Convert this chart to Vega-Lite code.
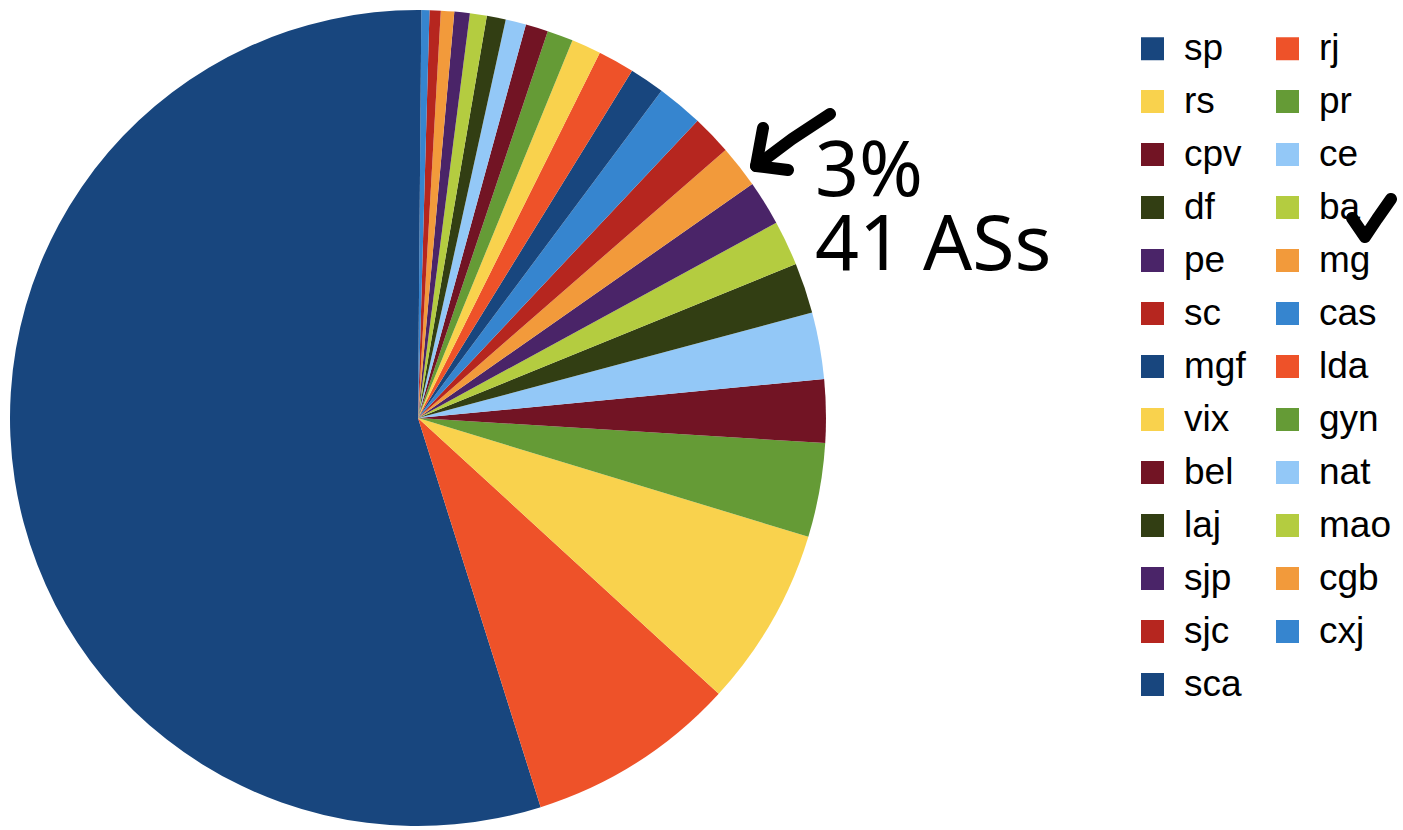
{
  "$schema": "https://vega.github.io/schema/vega-lite/v6.json",
  "width": 836,
  "height": 836,
  "padding": 0,
  "background": "white",
  "config": {"view": {"stroke": null}},
  "datasets": {
    "shares": [
      {"idx": 1, "name": "sp", "share": 54.86},
      {"idx": 2, "name": "rj", "share": 8.33},
      {"idx": 3, "name": "rs", "share": 7.11},
      {"idx": 4, "name": "pr", "share": 3.72},
      {"idx": 5, "name": "cpv", "share": 2.5},
      {"idx": 6, "name": "ce", "share": 2.64},
      {"idx": 7, "name": "df", "share": 2.0},
      {"idx": 8, "name": "ba", "share": 1.78},
      {"idx": 9, "name": "pe", "share": 1.78},
      {"idx": 10, "name": "mg", "share": 1.69},
      {"idx": 11, "name": "sc", "share": 1.58},
      {"idx": 12, "name": "cas", "share": 1.83},
      {"idx": 13, "name": "mgf", "share": 1.39},
      {"idx": 14, "name": "lda", "share": 1.44},
      {"idx": 15, "name": "vix", "share": 1.17},
      {"idx": 16, "name": "gyn", "share": 1.03},
      {"idx": 17, "name": "bel", "share": 0.89},
      {"idx": 18, "name": "nat", "share": 0.81},
      {"idx": 19, "name": "laj", "share": 0.75},
      {"idx": 20, "name": "mao", "share": 0.67},
      {"idx": 21, "name": "sjp", "share": 0.61},
      {"idx": 22, "name": "cgb", "share": 0.53},
      {"idx": 23, "name": "sjc", "share": 0.44},
      {"idx": 24, "name": "cxj", "share": 0.32},
      {"idx": 25, "name": "sca", "share": 0.13}
    ],
    "notes": [
      {"label": "3%", "x": 815, "y": 196},
      {"label": "41 ASs", "x": 815, "y": 270}
    ],
    "arrows": [
      {"part": "a1shaft", "i": 1, "x": 756, "y": 166},
      {"part": "a1shaft", "i": 2, "x": 792, "y": 139},
      {"part": "a1shaft", "i": 3, "x": 830, "y": 114},
      {"part": "a1head", "i": 1, "x": 763, "y": 128},
      {"part": "a1head", "i": 2, "x": 756, "y": 166},
      {"part": "a1head", "i": 3, "x": 788, "y": 170},
      {"part": "a2", "i": 1, "x": 1352, "y": 218},
      {"part": "a2", "i": 2, "x": 1365, "y": 237},
      {"part": "a2", "i": 3, "x": 1377, "y": 219},
      {"part": "a2", "i": 4, "x": 1391, "y": 199}
    ]
  },
  "layer": [
    {
      "data": {"name": "shares"},
      "mark": {"type": "arc", "outerRadius": 408},
      "encoding": {
        "theta": {"field": "share", "type": "quantitative", "stack": true},
        "order": {"field": "idx", "type": "quantitative", "sort": "descending"},
        "color": {
          "field": "name",
          "type": "nominal",
          "scale": {
            "domain": ["sp","rj","rs","pr","cpv","ce","df","ba","pe","mg","sc","cas","mgf","lda","vix","gyn","bel","nat","laj","mao","sjp","cgb","sjc","cxj","sca"],
            "range": ["#18467e","#ee5229","#f9d24d","#659b36","#721424","#93c8f7","#323e13","#b4cc40","#4a2468","#f29a3b","#b6261f","#3685cf","#18467e","#ee5229","#f9d24d","#659b36","#721424","#93c8f7","#323e13","#b4cc40","#4a2468","#f29a3b","#b6261f","#3685cf","#18467e"]
          },
          "legend": {
            "title": null,
            "orient": "none",
            "direction": "horizontal",
            "legendX": 1134,
            "legendY": 30,
            "columns": 2,
            "symbolType": "square",
            "symbolSize": 529,
            "symbolStrokeWidth": 0,
            "symbolOpacity": 1,
            "labelFont": "Liberation Sans",
            "labelFontSize": 37,
            "labelColor": "black",
            "labelOffset": 13,
            "rowPadding": 15,
            "columnPadding": 23,
            "padding": 0,
            "labelLimit": 300
          }
        }
      }
    },
    {
      "data": {"name": "notes"},
      "mark": {"type": "text", "font": "Noto Sans", "fontSize": 77, "fontWeight": 400, "align": "left", "baseline": "alphabetic", "color": "black"},
      "encoding": {
        "x": {"field": "x", "type": "quantitative", "scale": {"domain": [0, 836], "nice": false, "zero": false}, "axis": null},
        "y": {"field": "y", "type": "quantitative", "scale": {"domain": [0, 836], "nice": false, "zero": false, "reverse": true}, "axis": null},
        "text": {"field": "label"}
      }
    },
    {
      "data": {"name": "arrows"},
      "mark": {"type": "line", "color": "black", "strokeWidth": 12, "strokeCap": "round", "strokeJoin": "round"},
      "encoding": {
        "x": {"field": "x", "type": "quantitative", "scale": {"domain": [0, 836], "nice": false, "zero": false}, "axis": null},
        "y": {"field": "y", "type": "quantitative", "scale": {"domain": [0, 836], "nice": false, "zero": false, "reverse": true}, "axis": null},
        "detail": {"field": "part"},
        "order": {"field": "i"}
      }
    }
  ]
}
